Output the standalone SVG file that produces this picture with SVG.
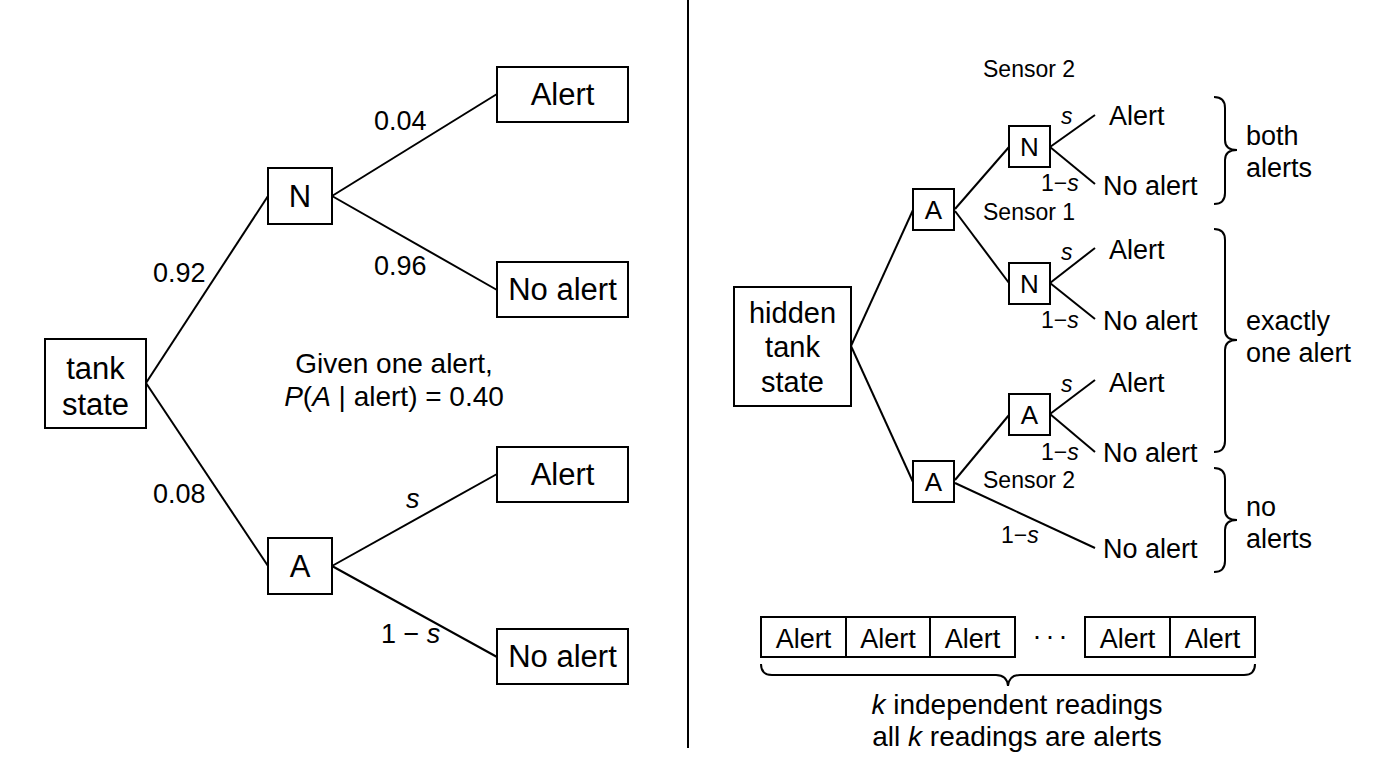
<svg xmlns="http://www.w3.org/2000/svg" width="1376" height="768" viewBox="0 0 1376 768">
<style>
text{font-family:"Liberation Sans",Arial,sans-serif;fill:#000}
.box{fill:#fff;stroke:#000;stroke-width:2}
.ln{stroke:#000;stroke-width:2;fill:none}
.big{font-size:31px;text-anchor:middle}
.lab{font-size:27px}
.leaf{font-size:27px}
.sm{font-size:23px}
.nd{font-size:26px;text-anchor:middle}
.it{font-style:italic}
.mid{text-anchor:middle}
</style>
<rect width="1376" height="768" fill="#fff"/>
<line class="ln" x1="688" y1="0" x2="688" y2="748"/>

<g id="connectors">
  <line class="ln" x1="146" y1="383" x2="268" y2="196"/>
  <line class="ln" x1="146" y1="383" x2="268" y2="566"/>
  <line class="ln" x1="332" y1="196" x2="497" y2="94"/>
  <line class="ln" x1="332" y1="196" x2="497" y2="290"/>
  <line class="ln" x1="332" y1="566" x2="497" y2="474"/>
  <line class="ln" x1="332" y1="566" x2="497" y2="657"/>

  <line class="ln" x1="851" y1="346" x2="913" y2="210"/>
  <line class="ln" x1="851" y1="346" x2="913" y2="482"/>
  <line class="ln" x1="955" y1="209" x2="1009" y2="147"/>
  <line class="ln" x1="955" y1="211" x2="1009" y2="283"/>
  <line class="ln" x1="955" y1="480" x2="1009" y2="415"/>
  <line class="ln" x1="955" y1="483" x2="1095" y2="548"/>
  <line class="ln" x1="1050" y1="147" x2="1095" y2="115"/>
  <line class="ln" x1="1050" y1="147" x2="1095" y2="184"/>
  <line class="ln" x1="1050" y1="283" x2="1095" y2="248"/>
  <line class="ln" x1="1050" y1="283" x2="1095" y2="319"/>
  <line class="ln" x1="1050" y1="414" x2="1095" y2="380"/>
  <line class="ln" x1="1050" y1="414" x2="1095" y2="452"/>
</g>

<!-- Left tree -->
<g id="tank-state"><rect class="box" x="45" y="339" width="101" height="89"/>
  <text class="big" x="95.5" y="379">tank</text><text class="big" x="95.5" y="415">state</text></g>
<g id="left-N"><rect class="box" x="268" y="168" width="64" height="56"/><text class="big" x="300" y="207">N</text></g>
<g id="left-A"><rect class="box" x="268" y="538" width="64" height="56"/><text class="big" x="300" y="577">A</text></g>
<g id="left-alert1"><rect class="box" x="497" y="67" width="131" height="55"/><text class="big" x="562.5" y="105">Alert</text></g>
<g id="left-noalert1"><rect class="box" x="497" y="262" width="131" height="55"/><text class="big" x="562.5" y="300">No alert</text></g>
<g id="left-alert2"><rect class="box" x="497" y="447" width="131" height="55"/><text class="big" x="562.5" y="485">Alert</text></g>
<g id="left-noalert2"><rect class="box" x="497" y="629" width="131" height="55"/><text class="big" x="562.5" y="667">No alert</text></g>

<g id="left-labels">
  <text class="lab" x="374" y="130">0.04</text>
  <text class="lab" x="374" y="275">0.96</text>
  <text class="lab" x="153" y="282">0.92</text>
  <text class="lab" x="153" y="503">0.08</text>
  <text class="lab it" x="406" y="508">s</text>
  <text class="lab" x="381" y="643">1 − <tspan class="it">s</tspan></text>
  <text class="lab mid" style="font-size:28px" x="394" y="373">Given one alert,</text>
  <text class="lab mid" style="font-size:28px" x="394" y="406"><tspan class="it">P</tspan>(<tspan class="it">A</tspan> | alert) = 0.40</text>
</g>

<!-- Right tree -->
<g id="hidden-state"><rect class="box" x="734" y="287" width="117" height="119"/>
  <text class="big" style="font-size:29px" x="792.5" y="323">hidden</text>
  <text class="big" style="font-size:29px" x="792.5" y="357">tank</text>
  <text class="big" style="font-size:29px" x="792.5" y="392">state</text></g>
<g id="r-A1"><rect class="box" x="913" y="189" width="41" height="41"/><text class="nd" x="933.5" y="219">A</text></g>
<g id="r-A2"><rect class="box" x="913" y="461" width="41" height="41"/><text class="nd" x="933.5" y="491">A</text></g>
<g id="r-N1"><rect class="box" x="1009" y="126" width="41" height="41"/><text class="nd" x="1029.5" y="156">N</text></g>
<g id="r-N2"><rect class="box" x="1009" y="263" width="41" height="41"/><text class="nd" x="1029.5" y="293">N</text></g>
<g id="r-A3"><rect class="box" x="1009" y="394" width="41" height="41"/><text class="nd" x="1029.5" y="424">A</text></g>

<g id="r-leaves">
  <text class="leaf" x="1109" y="125">Alert</text>
  <text class="leaf" x="1103" y="195">No alert</text>
  <text class="leaf" x="1109" y="259">Alert</text>
  <text class="leaf" x="1103" y="330">No alert</text>
  <text class="leaf" x="1109" y="392">Alert</text>
  <text class="leaf" x="1103" y="462">No alert</text>
  <text class="leaf" x="1103" y="558">No alert</text>
</g>
<g id="r-labels">
  <text class="sm it" x="1061" y="124">s</text>
  <text class="sm" x="1041" y="191">1−<tspan class="it">s</tspan></text>
  <text class="sm it" x="1061" y="260">s</text>
  <text class="sm" x="1041" y="328">1−<tspan class="it">s</tspan></text>
  <text class="sm it" x="1061" y="392">s</text>
  <text class="sm" x="1041" y="460">1−<tspan class="it">s</tspan></text>
  <text class="sm" x="1001" y="543">1−<tspan class="it">s</tspan></text>
  <text class="sm" x="983" y="77">Sensor 2</text>
  <text class="sm" x="983" y="220">Sensor 1</text>
  <text class="sm" x="983" y="488">Sensor 2</text>
</g>

<g id="braces">
  <path class="ln" d="M1214,97 Q1225,97 1225,108 L1225,140 Q1225,150 1237,150 Q1225,150 1225,160 L1225,193 Q1225,204 1214,204"/>
  <path class="ln" d="M1214,229 Q1225,229 1225,240 L1225,330 Q1225,340 1237,340 Q1225,340 1225,350 L1225,441 Q1225,452 1214,452"/>
  <path class="ln" d="M1214,468 Q1225,468 1225,479 L1225,510 Q1225,520 1237,520 Q1225,520 1225,530 L1225,561 Q1225,572 1214,572"/>
  <text class="leaf" x="1246" y="145">both</text>
  <text class="leaf" x="1246" y="177">alerts</text>
  <text class="leaf" x="1246" y="330">exactly</text>
  <text class="leaf" x="1246" y="362">one alert</text>
  <text class="leaf" x="1246" y="516">no</text>
  <text class="leaf" x="1246" y="548">alerts</text>
</g>

<g id="readings">
  <rect class="box" x="761" y="617" width="85" height="40"/>
  <rect class="box" x="846" y="617" width="84" height="40"/>
  <rect class="box" x="930" y="617" width="85" height="40"/>
  <rect class="box" x="1085" y="617" width="85" height="40"/>
  <rect class="box" x="1170" y="617" width="85" height="40"/>
  <text class="leaf mid" x="803.5" y="648">Alert</text>
  <text class="leaf mid" x="888" y="648">Alert</text>
  <text class="leaf mid" x="972.5" y="648">Alert</text>
  <text class="leaf mid" x="1127.5" y="648">Alert</text>
  <text class="leaf mid" x="1212.5" y="648">Alert</text>
  <text class="leaf mid" x="1052" y="645" style="letter-spacing:4px">···</text>
  <path class="ln" d="M761,664 Q761,675 772,675 L996,675 Q1007,675 1008,686 Q1009,675 1020,675 L1244,675 Q1255,675 1255,664"/>
  <text class="lab mid" style="font-size:28px" x="1017" y="714"><tspan class="it">k</tspan> independent readings</text>
  <text class="lab mid" style="font-size:28px" x="1017" y="746">all <tspan class="it">k</tspan> readings are alerts</text>
</g>
</svg>
